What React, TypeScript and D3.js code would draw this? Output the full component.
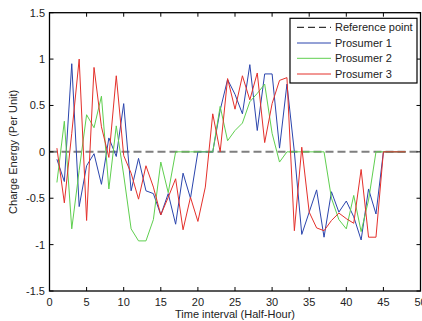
import React from "react";
import * as d3 from "d3";

const timeSteps = d3.range(1, 49);
const prosumer1 = [-0.08, -0.32, 0.95, -0.59, -0.15, -0.02, -0.35, 0.15, -0.05, 0.52, -0.42, -0.07, -0.42, -0.45, -0.68, -0.45, -0.78, -0.23, -0.5, 0, 0, 0, 0.45, 0.78, 0.62, 0.41, 0.94, 0.23, 0.84, 0.84, 0.04, 0.73, 0.0, -0.89, -0.65, -0.41, -0.92, -0.43, -0.65, -0.53, -0.7, -0.95, -0.4, -0.67, 0, 0, 0, 0];
const prosumer2 = [-0.33, 0.33, -0.83, -0.2, 0.4, 0.26, 0.6, -0.4, 0.28, -0.25, -0.83, -0.96, -0.96, -0.73, -0.11, -0.44, 0, 0, 0, 0, 0, 0, 0.49, 0.12, 0.23, 0.31, 0.54, 0.63, 0.73, 0.2, -0.11, 0, 0, 0, 0, 0, 0, -0.5, -0.73, -0.83, -0.47, -0.86, -0.52, 0, 0, 0, 0, 0];
const prosumer3 = [0.04, -0.55, 0.2, 1.0, -0.74, 0.91, 0.27, -0.06, 0.82, -0.04, -0.23, -0.51, -0.15, -0.38, -0.68, -0.49, -0.29, -0.84, -0.49, -0.75, -0.38, 0.41, 0, 0.79, 0.46, 0.82, 0.56, 0.85, 0.1, 0.52, 0.77, 0.8, -0.85, 0.05, -0.65, -0.82, -0.85, -0.74, -0.66, -0.72, -0.77, -0.19, -0.92, -0.92, 0, 0, 0, 0];
const referenceX = [0, 50];
const referenceY = [0, 0];
const xTicks = [0, 5, 10, 15, 20, 25, 30, 35, 40, 45, 50];
const yTicks = [-1.5, -1, -0.5, 0, 0.5, 1, 1.5];
const seriesNames = ["Prosumer 1", "Prosumer 2", "Prosumer 3"];
const seriesColors = ["#2b45ad", "#5fcf4f", "#e4302b"];

export default function App() {
  const W = 422, H = 321;
  const left = 49.5, right = 420.5, top = 12.7, bottom = 291;
  const x = d3.scaleLinear().domain([0, 50]).range([left, right]);
  const y = d3.scaleLinear().domain([-1.5, 1.5]).range([bottom, top]);
  const line = d3.line<number>().x((_, i) => x(timeSteps[i])).y((d) => y(d));
  const series = [prosumer1, prosumer2, prosumer3];
  const font = "Liberation Sans, Arial, sans-serif";
  const tl = 4;
  const lg = { x0: 290, y0: 18.3, x1: 417, y1: 83 };
  const legendRows = [27.3, 43, 58.3, 74];
  return (
    <svg width={W} height={H} style={{ position: "absolute", left: 0, top: 0, background: "#fff" }} fontFamily={font}>
      <rect x={0} y={0} width={W} height={H} fill="#fff" />
      <path
        d={d3.line<number>().x((d) => x(d)).y((_, i) => y(referenceY[i]))(referenceX) || ""}
        stroke="#7f7f7f" strokeWidth={2} strokeDasharray="8,4" fill="none"
      />
      {series.map((s, k) => (
        <path key={k} d={line(s) || ""} stroke={seriesColors[k]} strokeWidth={1} fill="none" />
      ))}
      <rect x={left} y={top} width={right - left} height={bottom - top} fill="none" stroke="#000" strokeWidth={1.3} />
      {xTicks.map((t) => (
        <g key={"x" + t}>
          <line x1={x(t)} x2={x(t)} y1={bottom} y2={bottom - tl} stroke="#000" />
          <line x1={x(t)} x2={x(t)} y1={top} y2={top + tl} stroke="#000" />
          <text x={x(t)} y={306} fontSize={11} textAnchor="middle" fill="#222">{t}</text>
        </g>
      ))}
      {yTicks.map((t) => (
        <g key={"y" + t}>
          <line x1={left} x2={left + tl} y1={y(t)} y2={y(t)} stroke="#000" />
          <line x1={right} x2={right - tl} y1={y(t)} y2={y(t)} stroke="#000" />
          <text x={45} y={y(t) + 4} fontSize={11} textAnchor="end" fill="#222">{t}</text>
        </g>
      ))}
      <text x={(left + right) / 2} y={318} fontSize={11} textAnchor="middle" fill="#222">Time interval (Half-Hour)</text>
      <text transform={`translate(17,${(top + bottom) / 2}) rotate(-90)`} fontSize={11} textAnchor="middle" fill="#222">Charge Energy (Per Unit)</text>
      <rect x={lg.x0} y={lg.y0} width={lg.x1 - lg.x0} height={lg.y1 - lg.y0} fill="#fff" stroke="#000" strokeWidth={1.2} />
      <line x1={297} x2={331} y1={legendRows[0]} y2={legendRows[0]} stroke="#000" strokeWidth={1} strokeDasharray="7,4" />
      <text x={335} y={legendRows[0] + 4} fontSize={11} fill="#222">Reference point</text>
      {seriesNames.map((n, k) => (
        <g key={n}>
          <line x1={297} x2={331} y1={legendRows[k + 1]} y2={legendRows[k + 1]} stroke={seriesColors[k]} strokeWidth={1} />
          <text x={335} y={legendRows[k + 1] + 4} fontSize={11} fill="#222">{n}</text>
        </g>
      ))}
    </svg>
  );
}
